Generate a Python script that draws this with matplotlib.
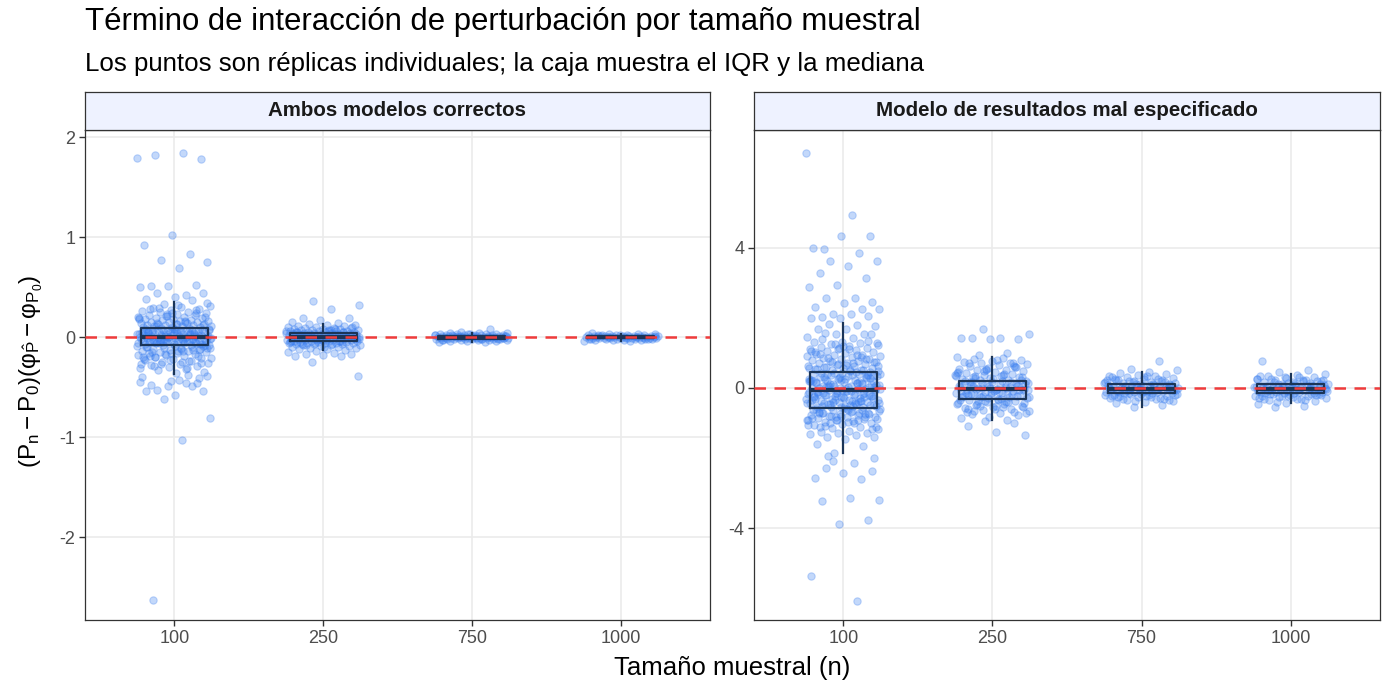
import numpy as np
import matplotlib
matplotlib.use("Agg")
import matplotlib.pyplot as plt

plt.rcParams['font.family'] = ['Liberation Sans', 'DejaVu Sans']
plt.rcParams['mathtext.fontset'] = 'custom'
plt.rcParams['mathtext.rm'] = 'Liberation Sans'
plt.rcParams['mathtext.it'] = 'Liberation Sans:italic'

# categories / facets
sizes = ["100", "250", "750", "1000"]
panels = ["Ambos modelos correctos", "Modelo de resultados mal especificado"]

# --- replicate values (approximate) ---
left_100 = [1.79, 1.84, 1.82, 1.78, 1.02, 0.92, 0.83, 0.77, 0.75, 0.69, 0.51, 0.52, 0.51, 0.50,
            0.42, 0.44, 0.44, 0.40, 0.38, 0.37,
            0.33, 0.31, 0.30, 0.29, 0.28, 0.27, 0.26, 0.25, 0.25, 0.24, 0.23, 0.22, 0.22, 0.21,
            0.20, 0.20, 0.19, 0.19, 0.18, 0.18, 0.17, 0.17, 0.16, 0.16, 0.15, 0.15, 0.15, 0.14,
            0.14, 0.13, 0.13, 0.13, 0.12, 0.12, 0.12, 0.11, 0.11, 0.11, 0.10, 0.10, 0.10, 0.09,
            0.09, 0.34, 0.32, 0.28, 0.24, 0.21, 0.18, 0.16, 0.14, 0.12,
            0.08, 0.08, 0.07, 0.07, 0.07, 0.06, 0.06, 0.06, 0.05, 0.05, 0.05, 0.05, 0.04, 0.04,
            0.04, 0.04, 0.03, 0.03, 0.03, 0.03, 0.02, 0.02, 0.02, 0.02, 0.01, 0.01, 0.01, 0.01,
            0.00, 0.00, 0.00, 0.00, -0.01, -0.01, -0.01, -0.01, -0.02, -0.02, -0.02, -0.02,
            -0.03, -0.03, -0.03, -0.03, -0.04, -0.04, -0.04, -0.04, -0.05, -0.05, -0.05, -0.06,
            -0.06, -0.06, -0.07, -0.07, -0.07, -0.08, -0.08, 0.085, 0.065, 0.045, 0.025, 0.005,
            -0.015, -0.035, -0.055, -0.075, 0.075, 0.055, 0.035, 0.015, -0.005, -0.025, -0.045,
            -0.065, 0.08, 0.06, 0.04, 0.02, 0.0, -0.02, -0.04, -0.06, 0.07, 0.03, -0.01, -0.05,
            -0.09, -0.09, -0.10, -0.10, -0.11, -0.11, -0.12, -0.12, -0.13, -0.13, -0.14, -0.14,
            -0.15, -0.15, -0.16, -0.16, -0.17, -0.18, -0.18, -0.19, -0.20, -0.21, -0.22, -0.23,
            -0.24, -0.25, -0.26, -0.27, -0.28, -0.29, -0.30, -0.31, -0.32, -0.33, -0.35, -0.36,
            -0.10, -0.13, -0.17, -0.21, -0.25, -0.29, -0.12, -0.16, -0.20, -0.24, -0.27, -0.11,
            -0.14, -0.19,
            0.27, 0.23, 0.19, 0.15, 0.11, 0.075, 0.045, 0.015, -0.015, -0.045, -0.075, -0.11,
            -0.15, -0.19, -0.23, -0.27, -0.31, 0.29, 0.2, 0.13, 0.06, 0.01, -0.03, -0.09, -0.14,
            -0.2, -0.26, 0.24, -0.22, 0.035, -0.025,
            -0.39, -0.43, -0.48, -0.46, -0.49, -0.45, -0.46, -0.53, -0.54, -0.58, -0.54, -0.49,
            -0.62, -0.81, -1.03, -2.63, -0.41, -0.44, -0.40, -0.38]

left_250 = [0.36, 0.32, 0.28, 0.19, 0.19, 0.17, 0.15, 0.14, 0.13, 0.12, 0.12, 0.11, 0.11, 0.10,
            0.10, 0.09, 0.09, 0.09, 0.08, 0.08, 0.08, 0.07, 0.07, 0.07, 0.07, 0.06, 0.06, 0.06,
            0.06, 0.05, 0.05, 0.05, 0.05, 0.05, 0.04, 0.04, 0.04, 0.04, 0.04, 0.03, 0.03, 0.03,
            0.03, 0.03, 0.02, 0.02, 0.02, 0.02, 0.02, 0.01, 0.01, 0.01, 0.01, 0.01, 0.00, 0.00,
            0.00, 0.00, 0.00, -0.01, -0.01, -0.01, -0.01, -0.01, -0.02, -0.02, -0.02, -0.02,
            -0.02, -0.03, -0.03, -0.03, -0.03, -0.03, -0.04, -0.04, -0.04, -0.04, -0.04, -0.05,
            -0.05, -0.05, -0.05, -0.06, -0.06, -0.06, -0.06, -0.07, -0.07, -0.07, -0.08, -0.08,
            -0.08, -0.09, -0.09, -0.10, -0.10, -0.11, -0.11, -0.12, -0.12, -0.13, -0.14, -0.15,
            -0.16, -0.17, -0.17, -0.18, -0.19, -0.19, -0.25, -0.39, 0.045, 0.025, 0.005, -0.015,
            -0.035, 0.035, 0.015, -0.005, -0.025, -0.045, 0.055, -0.055, 0.065, -0.065, 0.0,
            0.02, -0.02, 0.04, -0.04, 0.01, -0.01, 0.06, 0.03, 0.0, -0.03, -0.06, 0.08, -0.08,
            0.1, -0.1, 0.05, -0.05, 0.02, -0.02, 0.07, -0.07]

left_750 = [0.08, 0.05, 0.045, 0.04, 0.04, 0.035, 0.035, 0.03, 0.03, 0.03, 0.025, 0.025, 0.025,
            0.02, 0.02, 0.02, 0.02, 0.015, 0.015, 0.015, 0.015, 0.01, 0.01, 0.01, 0.01, 0.01,
            0.005, 0.005, 0.005, 0.005, 0.005, 0.0, 0.0, 0.0, 0.0, 0.0, -0.005, -0.005, -0.005,
            -0.005, -0.005, -0.01, -0.01, -0.01, -0.01, -0.01, -0.015, -0.015, -0.015, -0.015,
            -0.02, -0.02, -0.02, -0.02, -0.025, -0.025, -0.025, -0.03, -0.03, -0.035, -0.035,
            -0.04, -0.045, -0.05, 0.012, -0.012, 0.008, -0.008, 0.003, -0.003, 0.018, -0.018,
            0.022, -0.022, 0.028, -0.028, 0.001, -0.001, 0.014, -0.014]

left_1000 = [0.04, 0.035, 0.03, 0.03, 0.025, 0.025, 0.02, 0.02, 0.02, 0.015, 0.015, 0.015, 0.012,
             0.012, 0.01, 0.01, 0.01, 0.008, 0.008, 0.005, 0.005, 0.005, 0.003, 0.003, 0.0, 0.0,
             0.0, 0.0, -0.003, -0.003, -0.005, -0.005, -0.005, -0.008, -0.008, -0.01, -0.01,
             -0.01, -0.012, -0.012, -0.015, -0.015, -0.015, -0.02, -0.02, -0.02, -0.025, -0.025,
             -0.03, -0.03, -0.035, -0.04, 0.018, -0.018, 0.022, -0.022, 0.001, -0.001, 0.006,
             -0.006, 0.014, -0.014]

right_100 = [6.69, 4.93, 3.96, 4.32, 4.34, 3.98, 3.84, 3.63, 3.61, 3.48, 3.29, 3.14, 2.92, 2.88,
             2.57, 2.56, 2.45, 2.41, 2.32, 2.24, 2.10, 2.24, 2.10, 2.03, 2.05, 1.99, 1.99, 1.79,
             1.81, 1.77, 1.69, 1.67,
             1.55, 1.54, 1.46, 1.42, 1.56, 1.55, 1.32, 1.30, 1.28, 1.25, 1.22, 1.2, 1.18, 1.15,
             1.12, 1.1, 1.08, 1.05, 1.02, 1.0, 0.98, 0.95, 0.93, 0.9, 0.88, 0.86, 0.84, 0.82,
             0.8, 0.78, 0.76, 0.74, 0.72, 0.7, 0.68, 0.66, 0.64, 0.62, 0.6, 0.58, 0.56, 0.54,
             0.52, 0.5, 0.48, 0.47, 1.4, 1.35, 1.15, 1.05, 0.95, 0.85, 0.75, 0.65, 0.55, 0.5,
             1.25, 0.9, 0.7, 0.6,
             0.45, 0.43, 0.41, 0.39, 0.37, 0.35, 0.33, 0.31, 0.29, 0.27, 0.25, 0.23, 0.21, 0.19,
             0.17, 0.15, 0.13, 0.11, 0.09, 0.07, 0.05, 0.03, 0.01, -0.01, -0.03, -0.05, -0.07,
             -0.09, -0.11, -0.13, -0.15, -0.17, -0.19, -0.21, -0.23, -0.25, -0.27, -0.29, -0.31,
             -0.33, -0.35, -0.37, -0.39, -0.41, -0.43, -0.45, -0.47, -0.49, -0.51, -0.53, -0.55,
             0.44, 0.4, 0.36, 0.32, 0.28, 0.24, 0.2, 0.16, 0.12, 0.08, 0.04, 0.0, -0.04, -0.08,
             -0.12, -0.16, -0.2, -0.24, -0.28, -0.32, -0.36, -0.4, -0.44, -0.48, -0.52, 0.38,
             0.3, 0.22, 0.14, 0.06, -0.02, -0.1, -0.18, -0.26, -0.34, -0.42, -0.5, 0.26, 0.1,
             -0.06, -0.22, -0.38, -0.54,
             1.28, 1.12, 0.97, 0.83, 0.69, 0.57, 0.46, 0.41, 0.34, 0.27, 0.18, 0.12, 0.05, -0.02,
             -0.08, -0.14, -0.21, -0.27, -0.33, -0.39, -0.46, -0.52, -0.59, -0.67, -0.74, -0.83,
             -0.91, -0.99, -1.08, -1.17, 1.19, 1.03, 0.88, 0.73, 0.63, 0.51, 0.42, 0.36, 0.29,
             0.21, 0.14, 0.07, 0.02, -0.04, -0.11, -0.17, -0.24, -0.3, -0.36, -0.43, -0.49,
             -0.55, -0.63, -0.71, -0.79, -0.87, -0.96, -1.12, 0.31, -0.15, 0.19, -0.44, 0.02,
             -0.28,
             -0.58, -0.6, -0.62, -0.64, -0.66, -0.68, -0.7, -0.72, -0.74, -0.76, -0.78, -0.8,
             -0.82, -0.84, -0.86, -0.88, -0.9, -0.92, -0.95, -0.98, -1.0, -1.03, -1.06, -1.1,
             -1.14, -1.18, -1.22, -1.24, -1.27, -1.27, -1.3, -1.34, -1.4, -1.4, -1.46, -1.6,
             -1.65, -1.85, -0.6, -0.65, -0.7, -0.75, -0.8, -0.85, -0.9, -1.0, -1.1, -0.62,
             -0.72, -0.82, -0.92, -1.05,
             -2.15, -2.27, -2.36, -2.43, -2.57, -2.60, -2.08, -3.2, -3.14, -3.21, -3.77, -3.87,
             -5.35, -6.08, -1.95, -2.0]

right_250 = [1.69, 1.55, 1.41, 1.41, 1.39, 1.40, 1.42, 1.0, 0.95, -1.34, -1.26, -1.07, -1.0,
             -0.95,
             0.88, 0.85, 0.82, 0.8, 0.78, 0.75, 0.72, 0.7, 0.68, 0.65, 0.62, 0.6, 0.58, 0.55,
             0.52, 0.5, 0.48, 0.45, 0.42, 0.4, 0.38, 0.36, 0.34, 0.32, 0.3, 0.28, 0.26, 0.24,
             0.22, 0.21, 0.8, 0.7, 0.6, 0.5, 0.45, 0.4, 0.35, 0.3, 0.25,
             0.19, 0.17, 0.15, 0.13, 0.11, 0.09, 0.07, 0.05, 0.03, 0.01, -0.01, -0.03, -0.05,
             -0.07, -0.09, -0.11, -0.13, -0.15, -0.17, -0.19, -0.21, -0.23, -0.25, -0.27, -0.29,
             -0.3, 0.18, 0.14, 0.1, 0.06, 0.02, -0.02, -0.06, -0.1, -0.14, -0.18, -0.22, -0.26,
             -0.3, 0.16, 0.08, 0.0, -0.08, -0.16, -0.24, 0.12, -0.04, -0.2,
             0.63, 0.54, 0.44, 0.37, 0.29, 0.23, 0.16, 0.1, 0.04, -0.01, -0.07, -0.12, -0.18,
             -0.24, -0.29, -0.34, -0.41, -0.47, -0.54, -0.61, -0.69, 0.71, 0.49, 0.33, 0.19,
             0.07, -0.05, -0.15, -0.26, -0.39, -0.5, -0.72,
             -0.33, -0.35, -0.37, -0.4, -0.42, -0.45, -0.48, -0.5, -0.53, -0.56, -0.6, -0.63,
             -0.66, -0.7, -0.74, -0.78, -0.82, -0.86, -0.91, -0.36, -0.44, -0.52, -0.6, -0.68,
             -0.38, -0.46, -0.55, -0.65]

right_750 = [0.77, 0.55, 0.5, 0.45, 0.42, 0.4, 0.38, 0.35, 0.33, 0.3, 0.28, 0.26, 0.24, 0.22,
             0.2, 0.18, 0.16, 0.14, 0.12, 0.11, 0.3, 0.25, 0.2, 0.15, 0.35, 0.22, 0.17,
             0.1, 0.09, 0.08, 0.07, 0.06, 0.05, 0.04, 0.03, 0.02, 0.01, 0.0, -0.01, -0.02, -0.03,
             -0.04, -0.05, -0.06, -0.07, -0.08, -0.09, -0.1, -0.11, -0.12, -0.13, -0.14, 0.085,
             0.055, 0.025, -0.005, -0.035, -0.065, -0.095, -0.125, 0.07, 0.03, -0.01, -0.05,
             -0.09, -0.13,
             0.32, 0.27, 0.21, 0.17, 0.13, 0.08, 0.04, 0.0, -0.04, -0.07, -0.11, -0.15, -0.19,
             -0.23, -0.27, -0.32, -0.38, 0.24, 0.12, 0.02, -0.06, -0.12, -0.21, -0.29,
             -0.16, -0.18, -0.2, -0.22, -0.24, -0.26, -0.28, -0.3, -0.33, -0.36, -0.4, -0.44,
             -0.48, -0.53, -0.2, -0.25, -0.3, -0.35, -0.17, -0.23]

right_1000 = [0.77, 0.5, 0.45, 0.39, 0.36, 0.33, 0.3, 0.28, 0.26, 0.24, 0.22, 0.2, 0.18, 0.16,
              0.14, 0.12, 0.11, 0.3, 0.25, 0.2, 0.15, 0.35, 0.22,
              0.1, 0.09, 0.08, 0.07, 0.06, 0.05, 0.04, 0.03, 0.02, 0.01, 0.0, -0.01, -0.02,
              -0.03, -0.04, -0.05, -0.06, -0.07, -0.08, -0.09, -0.1, -0.11, -0.12, -0.13, -0.14,
              0.085, 0.055, 0.025, -0.005, -0.035, -0.065, -0.095, -0.125, 0.07, 0.03, -0.01,
              -0.05, -0.09, -0.13,
              0.31, 0.26, 0.21, 0.16, 0.12, 0.07, 0.03, -0.01, -0.05, -0.08, -0.12, -0.16, -0.2,
              -0.24, -0.28, -0.33, -0.39, 0.23, 0.13, 0.01, -0.07, -0.13, -0.22, -0.31,
              -0.16, -0.18, -0.2, -0.22, -0.24, -0.26, -0.28, -0.3, -0.33, -0.36, -0.42, -0.45,
              -0.5, -0.55, -0.2, -0.25, -0.3, -0.17, -0.23]

# box statistics
left_q1 = [-0.08, -0.04, -0.015, -0.012]
left_med = [0.0, 0.0, 0.0, 0.0]
left_q3 = [0.09, 0.04, 0.015, 0.012]
left_lo = [-0.37, -0.13, -0.045, -0.035]
left_hi = [0.35, 0.13, 0.045, 0.035]

right_q1 = [-0.56, -0.31, -0.15, -0.15]
right_med = [-0.06, -0.03, -0.02, -0.04]
right_q3 = [0.46, 0.20, 0.10, 0.10]
right_lo = [-1.86, -0.91, -0.53, -0.42]
right_hi = [1.86, 0.88, 0.45, 0.39]

point_col = '#3B7FF0'
box_col = '#1B3558'
red = '#EF3B3B'

fig = plt.figure(figsize=(13.82, 6.83), dpi=100)
W, H = 1382, 683
ax_l = fig.add_axes([85 / W, 1 - 620 / H, 625 / W, 490 / H])
ax_r = fig.add_axes([754 / W, 1 - 620 / H, 626 / W, 490 / H])

groups = [
    (ax_l, [left_100, left_250, left_750, left_1000],
     (left_q1, left_med, left_q3, left_lo, left_hi), (-2.83, 2.07), [-2, -1, 0, 1, 2]),
    (ax_r, [right_100, right_250, right_750, right_1000],
     (right_q1, right_med, right_q3, right_lo, right_hi), (-6.61, 7.35), [-4, 0, 4]),
]

for (ax, data, stats, ylim, yticks), title in zip(groups, panels):
    for i, vals in enumerate(data):
        vals = np.asarray(vals)
        # deterministic jitter (golden-ratio sequence)
        k = np.arange(len(vals))
        off = ((k * 0.6180339887 + 0.37 * i) % 1.0 - 0.5) * 0.5
        ax.scatter(i + 1 + off, vals, s=28, facecolor=point_col, edgecolor=point_col,
                   linewidth=0.8, alpha=0.3, zorder=2)

    q1, med, q3, lo, hi = stats
    bstats = [dict(q1=q1[i], med=med[i], q3=q3[i], whislo=lo[i], whishi=hi[i], fliers=[])
              for i in range(4)]
    ax.bxp(bstats, positions=[1, 2, 3, 4], widths=0.45, showcaps=False, patch_artist=False,
           boxprops=dict(color=box_col, linewidth=1.6),
           whiskerprops=dict(color=box_col, linewidth=1.6),
           medianprops=dict(color=box_col, linewidth=3),
           manage_ticks=False, zorder=3)

    ax.axhline(0, color=red, lw=1.8, dashes=(4.6, 3.4), zorder=4)

    ax.set_xlim(0.4, 4.6)
    ax.set_ylim(*ylim)
    ax.set_xticks([1, 2, 3, 4])
    ax.set_xticklabels(sizes)
    ax.set_yticks(yticks)
    ax.set_yticklabels([str(t) for t in yticks])
    ax.grid(True, color='#EBEBEB', lw=1.2, zorder=0)
    ax.set_axisbelow(True)
    for sp in ax.spines.values():
        sp.set_color('#333333')
        sp.set_linewidth(0.9)
    ax.tick_params(axis='both', length=4, width=1, color='#333333', labelcolor='#4D4D4D',
                   labelsize=13, pad=3)

    # facet strip
    pos = ax.get_position()
    sax = fig.add_axes([pos.x0, pos.y1, pos.width, 38 / H])
    sax.set_xticks([])
    sax.set_yticks([])
    sax.set_facecolor('#EEF2FF')
    for sp in sax.spines.values():
        sp.set_color('#333333')
        sp.set_linewidth(0.9)
    sax.text(0.5, 0.5, title, ha='center', va='center', fontsize=14.8, fontweight='bold',
             color='#1A1A1A', transform=sax.transAxes)

fig.text(85 / W, 1 - 22 / H, "Término de interacción de perturbación por tamaño muestral",
         fontsize=22.4, color='black', ha='left', va='center')
fig.text(85 / W, 1 - 64 / H,
         "Los puntos son réplicas individuales; la caja muestra el IQR y la mediana",
         fontsize=18.6, color='black', ha='left', va='center')
fig.text(732 / W, 1 - 668 / H, "Tamaño muestral (n)", fontsize=18.5, ha='center', va='center')
fig.text(31 / W, 1 - 371 / H,
         r'$(\mathrm{P}_{\mathrm{n}} - \mathrm{P}_0)(\mathrm{φ}_{\hat{\mathrm{P}}} - \mathrm{φ}_{\mathrm{P}_0})$',
         fontsize=17.5, rotation=90, ha='center', va='center')

fig.savefig("out.png", dpi=100)
